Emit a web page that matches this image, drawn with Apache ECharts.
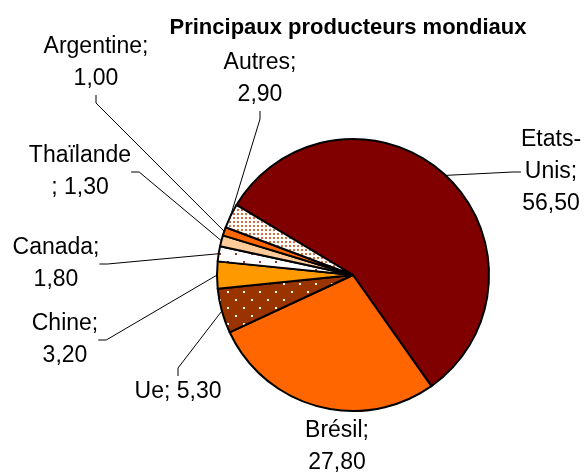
<!DOCTYPE html>
<html>
<head>
<meta charset="utf-8">
<script src="https://cdn.jsdelivr.net/npm/echarts@6/dist/echarts.min.js"></script>
<style>
  html, body { margin: 0; padding: 0; background: #fff; }
  #chart { width: 586px; height: 474px; }
</style>
</head>
<body>
<div id="chart"></div>
<script>
// data
const countries = ['Etats-Unis', 'Brésil', 'Ue', 'Chine', 'Canada', 'Thaïlande', 'Argentine', 'Autres']
const shares = [56.5, 27.8, 5.3, 3.2, 1.8, 1.3, 1.0, 2.9]

// where each label block sits (centre, px)
const labelPos = [[551, 172], [337, 447], [178, 392], [65, 340], [56, 264], [80, 172], [96, 63], [260, 79]]

// little dotted tiles for the hatched slices
function dots (bg, fg, size, pts, d) {
  const c = document.createElement('canvas')
  c.width = size
  c.height = size
  const ctx = c.getContext('2d')
  ctx.fillStyle = bg
  ctx.fillRect(0, 0, size, size)
  ctx.fillStyle = fg
  pts.forEach(p => {
    ctx.fillRect(p[0], p[1], d, d)
  })
  return { image: c, repeat: 'repeat' }
}

const fills = [
  '#800000',
  '#FF6600',
  dots('#993300', '#ffffff', 16, [[3, 3], [11, 11]], 2),
  '#FF9900',
  dots('#ffffff', '#993333', 16, [[3, 5], [11, 13]], 2),
  '#FFCC99',
  '#FF6600',
  dots('#ffffff', '#D2703C', 4, [[1, 1]], 2)
]

const fmt = v => v.toFixed(2).replace('.', ',')

function labelText (name, value) {
  if (name === 'Etats-Unis') return 'Etats-\nUnis;\n' + fmt(value)
  if (name === 'Ue') return name + '; ' + fmt(value)
  if (name === 'Thaïlande') return name + '\n; ' + fmt(value)
  return name + ';\n' + fmt(value)
}

const chart = echarts.init(document.getElementById('chart'))

chart.setOption({
  animation: false,
  title: {
    text: 'Principaux producteurs mondiaux',
    left: 343,
    top: 12,
    textAlign: 'center',
    textStyle: {
      fontFamily: 'Liberation Sans, Arial, sans-serif',
      fontSize: 22,
      fontWeight: 'bold',
      color: '#000'
    }
  },
  series: [{
    type: 'pie',
    center: [353, 275],
    radius: 136,
    startAngle: 149,
    clockwise: true,
    avoidLabelOverlap: false,
    data: countries.map((name, i) => ({
      name: name,
      value: shares[i],
      itemStyle: { color: fills[i] },
      // Brésil's label sits right under its slice, no leader drawn
      labelLine: { show: name !== 'Brésil' }
    })),
    itemStyle: {
      borderColor: '#000',
      borderWidth: 2
    },
    label: {
      show: true,
      position: 'outside',
      formatter: p => labelText(p.name, p.value),
      color: '#000',
      fontFamily: 'Liberation Sans, Arial, sans-serif',
      fontSize: 23,
      lineHeight: 32
    },
    labelLine: {
      show: true,
      length: 10,
      length2: 8,
      lineStyle: { color: '#000', width: 1 }
    },
    labelLayout: p => {
      const pos = labelPos[p.dataIndex]
      return { x: pos[0], y: pos[1], align: 'center', verticalAlign: 'middle' }
    },
    emphasis: { disabled: true }
  }]
})
</script>
</body>
</html>
